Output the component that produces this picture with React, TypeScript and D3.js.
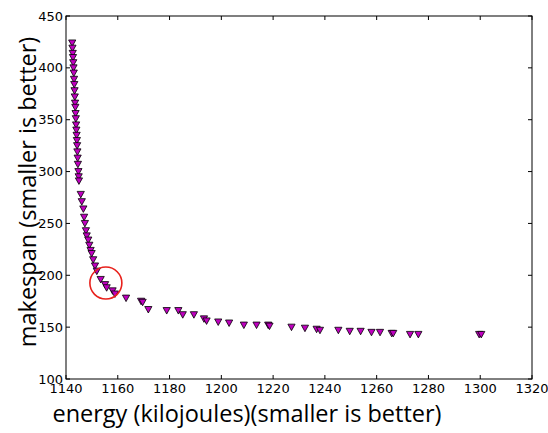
import React from "react";
import * as d3 from "d3";

// pareto front: energy (kJ) vs makespan
const energy = [
  1142.4, 1142.5, 1142.6, 1142.7, 1142.8, 1142.9, 1143.0, 1143.1, 1143.2, 1143.3,
  1143.4, 1143.5, 1143.6, 1143.7, 1143.8, 1143.9, 1144.0, 1144.1, 1144.2, 1144.3,
  1144.4, 1144.5, 1144.6, 1144.8, 1144.9, 1145.0,
  1145.7, 1146.1, 1146.7, 1147.0, 1147.3, 1147.7, 1148.0, 1148.6, 1149.0, 1149.5,
  1149.9, 1150.5, 1151.2, 1151.9, 1153.4, 1155.1, 1155.7, 1158.0, 1158.9, 1163.2,
  1169.0, 1169.6, 1171.8, 1178.9, 1183.4, 1185.1, 1189.4, 1193.3, 1194.3, 1198.8,
  1203.0, 1208.7, 1213.6, 1218.1, 1218.6, 1227.1, 1232.3, 1236.8, 1238.1, 1245.2,
  1249.6, 1253.8, 1258.0, 1261.3, 1265.8, 1266.4, 1272.9, 1276.1, 1299.6, 1300.4,
];
const makespan = [
  424, 419, 414, 410, 405, 400, 395, 389, 384, 378,
  372, 366, 362, 356, 351, 345, 340, 335, 330, 325,
  319, 313, 307, 300, 295, 291,
  278, 271, 264, 256, 250, 243, 238, 234, 229, 224,
  221, 215, 209, 204, 196, 191, 188, 185, 182, 178,
  175, 174, 167, 166, 166, 162, 162, 158, 156, 155,
  154, 152, 152, 152, 151, 150, 149, 148, 147, 147,
  146, 146, 145, 145, 144, 144, 143, 143, 143, 143,
];
const xTicks = [1140, 1160, 1180, 1200, 1220, 1240, 1260, 1280, 1300, 1320];
const yTicks = [100, 150, 200, 250, 300, 350, 400, 450];
// highlighted solution
const highlight = { energy: 1155.4, makespan: 192.5 };

const W = 548, H = 433;
const left = 66, right = 532, top = 16, bottom = 379;

export default function App() {
  const x = d3.scaleLinear().domain([1140, 1320]).range([left, right]);
  const y = d3.scaleLinear().domain([100, 450]).range([bottom, top]);
  const tri = "M0,3.5L-3.6,-3L3.6,-3Z";
  const tk = 4;

  return (
    <div>
      <style>{"body{margin:0}"}</style>
      <svg width={W} height={H} style={{ display: "block", background: "#fff" }}
        fontFamily="'DejaVu Sans', sans-serif">
        <rect x={left} y={top} width={right - left} height={bottom - top}
          fill="none" stroke="#000" strokeWidth={1} />
        {xTicks.map((t) => (
          <g key={"x" + t}>
            <line x1={x(t)} x2={x(t)} y1={bottom} y2={bottom - tk} stroke="#000" />
            <line x1={x(t)} x2={x(t)} y1={top} y2={top + tk} stroke="#000" />
            <text x={x(t)} y={bottom + 14} fontSize={13} textAnchor="middle">{t}</text>
          </g>
        ))}
        {yTicks.map((t) => (
          <g key={"y" + t}>
            <line x1={left} x2={left + tk} y1={y(t)} y2={y(t)} stroke="#000" />
            <line x1={right} x2={right - tk} y1={y(t)} y2={y(t)} stroke="#000" />
            <text x={left - 3} y={y(t) + 4.5} fontSize={13} textAnchor="end">{t}</text>
          </g>
        ))}
        {energy.map((e, i) => (
          <path key={i} d={tri} transform={`translate(${x(e)},${y(makespan[i])})`}
            fill="#bf00bf" stroke="#000" strokeWidth={0.8} />
        ))}
        <circle cx={x(highlight.energy)} cy={y(highlight.makespan)} r={16}
          fill="none" stroke="#e8211c" strokeWidth={1.6} />
        <text x={247} y={422} fontSize={23.5} textAnchor="middle"
          fontFamily="'Open Sans', sans-serif">energy (kilojoules)(smaller is better)</text>
        <text transform="translate(36,192) rotate(-90)" fontSize={23.5}
          textAnchor="middle" fontFamily="'Open Sans', sans-serif">makespan (smaller is better)</text>
      </svg>
    </div>
  );
}
